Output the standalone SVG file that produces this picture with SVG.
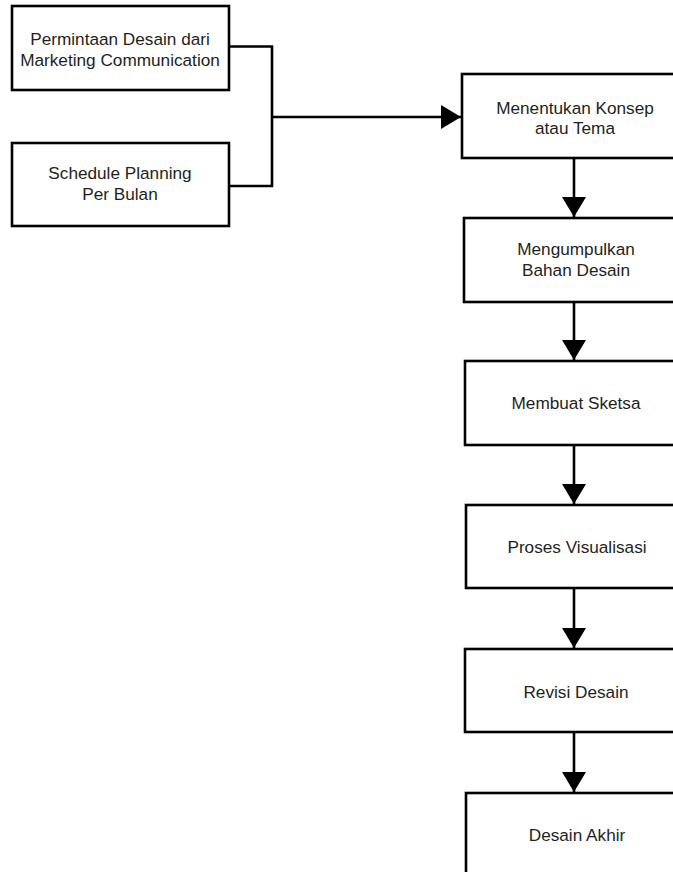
<svg xmlns="http://www.w3.org/2000/svg" width="673" height="872" viewBox="0 0 673 872">
<defs>
<style>
.box{fill:#fff;stroke:#000;stroke-width:2.6}
.lbl{font-family:"Liberation Sans",Arial,sans-serif;font-size:17.2px;fill:#231f20;text-anchor:middle}
.con{fill:none;stroke:#000;stroke-width:2.6}
</style>
<marker id="ah" viewBox="0 0 20 24" refX="20" refY="12" markerWidth="20" markerHeight="24" markerUnits="userSpaceOnUse" orient="auto">
<path d="M0,0 L20,12 L0,24 Z" fill="#000"/>
</marker>
</defs>
<rect width="673" height="872" fill="#fff"/>
<g id="connectors">
<path class="con" d="M229,46.5 H272 V186 H229"/>
<path class="con" d="M272,117 H461" marker-end="url(#ah)"/>
<path class="con" d="M574,158 V217" marker-end="url(#ah)"/>
<path class="con" d="M574,302 V360" marker-end="url(#ah)"/>
<path class="con" d="M574,445 V504" marker-end="url(#ah)"/>
<path class="con" d="M574,588 V648" marker-end="url(#ah)"/>
<path class="con" d="M574,732 V792" marker-end="url(#ah)"/>
</g>
<g id="n1"><rect class="box" x="12" y="6" width="217" height="84"/><text class="lbl" x="120" y="45">Permintaan Desain dari</text><text class="lbl" x="120" y="65.5">Marketing Communication</text></g>
<g id="n2"><rect class="box" x="12" y="143" width="217" height="83"/><text class="lbl" x="120" y="179">Schedule Planning</text><text class="lbl" x="120" y="200">Per Bulan</text></g>
<g id="n3"><rect class="box" x="462" y="74" width="223" height="84"/><text class="lbl" x="575" y="113.5">Menentukan Konsep</text><text class="lbl" x="575" y="133.5">atau Tema</text></g>
<g id="n4"><rect class="box" x="464" y="218" width="222" height="84"/><text class="lbl" x="576" y="255">Mengumpulkan</text><text class="lbl" x="576" y="276">Bahan Desain</text></g>
<g id="n5"><rect class="box" x="465" y="361" width="222" height="84"/><text class="lbl" x="576" y="408.5">Membuat Sketsa</text></g>
<g id="n6"><rect class="box" x="466" y="505" width="222" height="83"/><text class="lbl" x="577" y="553">Proses Visualisasi</text></g>
<g id="n7"><rect class="box" x="465" y="649" width="222" height="83"/><text class="lbl" x="576" y="697.5">Revisi Desain</text></g>
<g id="n8"><rect class="box" x="466" y="793" width="222" height="84"/><text class="lbl" x="577" y="841">Desain Akhir</text></g>
</svg>
